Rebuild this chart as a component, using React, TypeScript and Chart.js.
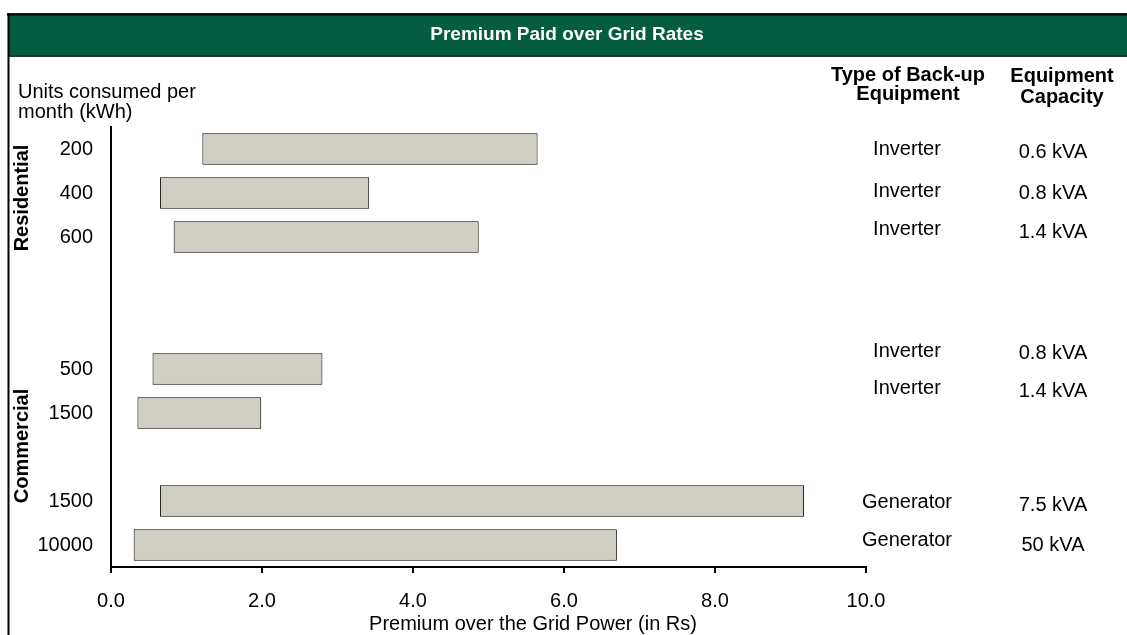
import React, { useEffect, useRef } from "react";
import { Chart, registerables } from "chart.js";

Chart.register(...registerables);

const FONT = "'Liberation Sans', Arial, sans-serif";

// ---- data ----
const categories = ["200", "400", "600", "", "", "500", "1500", "", "1500", "10000"];
const lowValues: (number | null)[] = [1.21, 0.65, 0.83, null, null, 0.55, 0.35, null, 0.65, 0.3];
const highValues: (number | null)[] = [5.65, 3.42, 4.87, null, null, 2.8, 1.99, null, 9.18, 6.7];
const xTicks = [0, 2, 4, 6, 8, 10];
const equipmentType = ["Inverter", "Inverter", "Inverter", "", "", "Inverter", "Inverter", "", "Generator", "Generator"];
const equipmentCapacity = ["0.6 kVA", "0.8 kVA", "1.4 kVA", "", "", "0.8 kVA", "1.4 kVA", "", "7.5 kVA", "50 kVA"];
const segmentNames = ["Residential", "Commercial"];
const segmentRanges = [[0, 2], [5, 9]];

const chartTitle = "Premium Paid over Grid Rates";
const xTitle = "Premium over the Grid Power (in Rs)";
const yTitleLines = ["Units consumed per", "month (kWh)"];
const typeHeader = ["Type of Back-up", "Equipment"];
const capHeader = ["Equipment", "Capacity"];

// layout tweaks for free-placed text (pixel offsets from row centre)
const typeDy = [0, -2, -8, 0, 0, -18, -25, 0, 1, -5];
const capDy = [3, 0, -5, 0, 0, -16, -22, 0, 4, 0];
const segDy = [5, -11];

const overlay = {
  id: "overlay",
  beforeDraw(chart: any) {
    const ctx = chart.ctx as CanvasRenderingContext2D;
    const W = chart.width;
    const H = chart.height;
    ctx.save();
    ctx.fillStyle = "#ffffff";
    ctx.fillRect(0, 0, W, H);
    // banner
    ctx.fillStyle = "#045c41";
    ctx.fillRect(8, 13, W - 8, 43);
    ctx.strokeStyle = "#111";
    ctx.lineWidth = 2.5;
    ctx.beginPath();
    ctx.moveTo(7, 14.5);
    ctx.lineTo(W, 14.5);
    ctx.stroke();
    ctx.strokeStyle = "#26362e";
    ctx.lineWidth = 2;
    ctx.beginPath();
    ctx.moveTo(8, 56);
    ctx.lineTo(W, 56);
    ctx.stroke();
    ctx.strokeStyle = "#000";
    ctx.lineWidth = 2;
    ctx.beginPath();
    ctx.moveTo(8.5, 13);
    ctx.lineTo(8.5, H);
    ctx.stroke();
    ctx.fillStyle = "#ffffff";
    ctx.font = `bold 19px ${FONT}`;
    ctx.textAlign = "center";
    ctx.textBaseline = "middle";
    ctx.fillText(chartTitle, 567, 35);
    ctx.restore();
  },
  afterDraw(chart: any) {
    const ctx = chart.ctx as CanvasRenderingContext2D;
    const y = chart.scales.y;
    ctx.save();
    ctx.fillStyle = "#000";
    ctx.textBaseline = "middle";
    // y title
    ctx.font = `20px ${FONT}`;
    ctx.textAlign = "left";
    ctx.fillText(yTitleLines[0], 18, 92);
    ctx.fillText(yTitleLines[1], 18, 112);
    // x title
    ctx.textAlign = "center";
    ctx.fillText(xTitle, 533, 624);
    // headers
    ctx.font = `bold 20px ${FONT}`;
    ctx.fillText(typeHeader[0], 908, 75);
    ctx.fillText(typeHeader[1], 908, 94);
    ctx.fillText(capHeader[0], 1062, 76);
    ctx.fillText(capHeader[1], 1062, 97);
    // row texts
    ctx.font = `20px ${FONT}`;
    for (let i = 0; i < categories.length; i++) {
      const py = y.getPixelForValue(i);
      if (equipmentType[i]) ctx.fillText(equipmentType[i], 907, py + typeDy[i]);
      if (equipmentCapacity[i]) ctx.fillText(equipmentCapacity[i], 1053, py + capDy[i]);
    }
    // segment labels
    ctx.font = `bold 20px ${FONT}`;
    segmentNames.forEach((name, k) => {
      const [a, b] = segmentRanges[k];
      const cy = (y.getPixelForValue(a) + y.getPixelForValue(b)) / 2 + segDy[k];
      ctx.save();
      ctx.translate(22, cy);
      ctx.rotate(-Math.PI / 2);
      ctx.fillText(name, 0, 0);
      ctx.restore();
    });
    ctx.restore();
  },
};

export default function App() {
  const ref = useRef<HTMLCanvasElement | null>(null);
  useEffect(() => {
    if (!ref.current) return;
    const chart = new Chart(ref.current, {
      type: "bar",
      data: {
        labels: categories,
        datasets: [
          {
            data: lowValues.map((l, i) => (l == null || highValues[i] == null ? null : [l, highValues[i] as number])) as any,
            backgroundColor: "#d1cfc3",
            borderColor: "#000",
            borderWidth: 1,
            borderSkipped: false,
            barPercentage: 0.72,
            categoryPercentage: 1.0,
          },
        ],
      },
      options: {
        indexAxis: "y",
        responsive: false,
        animation: false,
        events: [],
        layout: { padding: { left: 0, top: 127, right: 261, bottom: 0 } },
        plugins: {
          legend: { display: false },
          tooltip: { enabled: false },
          title: { display: false },
        },
        scales: {
          x: {
            type: "linear",
            min: 0,
            max: 10,
            afterBuildTicks: (s: any) => {
              s.ticks = xTicks.map((v) => ({ value: v }));
            },
            ticks: {
              callback: (v: any) => Number(v).toFixed(1),
              color: "#000",
              font: { size: 20, family: FONT },
              padding: 16,
              maxRotation: 0,
              autoSkip: false,
            },
            grid: { drawOnChartArea: false, drawTicks: true, tickLength: 6, color: "#000", lineWidth: 2 },
            border: { display: true, color: "#000", width: 2 },
            afterFit: (s: any) => {
              s.height = 68;
            },
          },
          y: {
            type: "category",
            ticks: { color: "#000", font: { size: 20, family: FONT }, padding: 18, autoSkip: false },
            grid: { display: false, drawTicks: false },
            border: { display: true, color: "#000", width: 2 },
            afterFit: (s: any) => {
              s.width = 111;
            },
          },
        },
      },
      plugins: [overlay],
    });
    return () => chart.destroy();
  }, []);
  return (
    <div style={{ position: "absolute", left: 0, top: 0, width: 1127, height: 635 }}>
      <canvas ref={ref} width={1127} height={635} style={{ display: "block" }} />
    </div>
  );
}
